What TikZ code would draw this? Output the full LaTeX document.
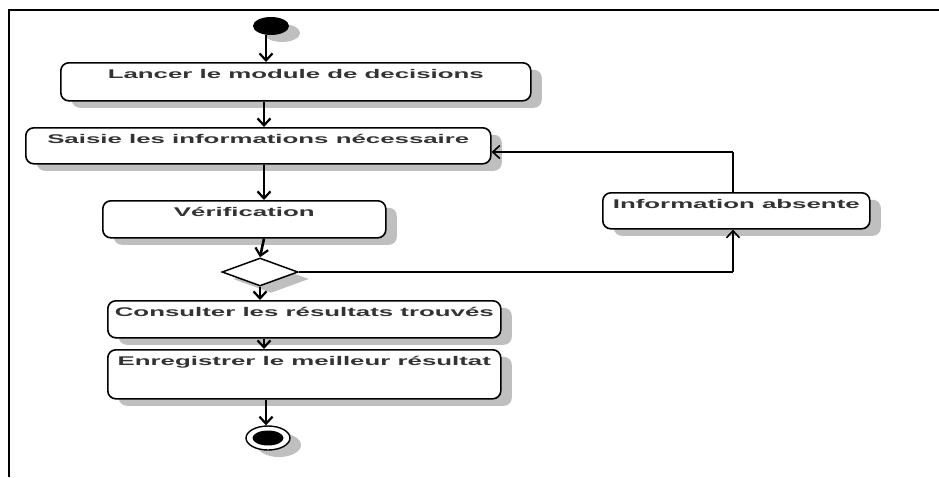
\documentclass[tikz,border=0pt]{standalone}
\usepackage{fontspec}
\newfontfamily\umlfont{Liberation Sans}[FakeStretch=2.05]
\usetikzlibrary{arrows.meta,shapes.geometric,shadows}
\begin{document}
\begin{tikzpicture}[x=1pt,y=-1pt,
  shade/.style={drop shadow={shadow xshift=11pt,shadow yshift=-7pt,fill=gray!50,opacity=1}},
  actbox/.style={draw=black,line width=1.6pt,fill=white,rounded corners=8pt,
    inner xsep=0pt,inner ysep=7pt,text height=9pt,anchor=north west,
    font=\umlfont\bfseries\fontsize{12.6}{14}\selectfont,text=black!80,shade},
  flow/.style={line width=2.6pt,-{Straight Barb[length=7pt,width=13pt,line width=2.2pt]}},
  back/.style={line width=1.8pt,-{Straight Barb[length=7pt,width=13pt,line width=1.6pt]}},
  seg/.style={line width=1.8pt}]
\useasboundingbox (0,0) rectangle (939,477);
\fill[white] (0,0) rectangle (939,477);
% frame
\draw[line width=2.2pt] (9,477) -- (9,10) -- (939,10);

% start and end
\node[ellipse,fill=black,minimum width=36pt,minimum height=18pt,inner sep=0pt,shade] (start) at (271,26) {};
\node[ellipse,draw=black,line width=1.4pt,fill=white,minimum width=44pt,minimum height=24pt,inner sep=0pt,shade] (stop) at (268,438) {};
\node[ellipse,fill=black,minimum width=31pt,minimum height=15pt,inner sep=0pt] (stopdot) at (stop.center) {};

% actions
\node[actbox,minimum width=470pt,text depth=15pt] (b1) at (60,62) {Lancer le module de decisions};
\node[actbox,minimum width=465pt,text depth=13pt] (b2) at (25,127) {Saisie les informations nécessaire};
\node[actbox,minimum width=283pt,text depth=14pt] (b3) at (102,200) {Vérification};
\node[actbox,minimum width=393pt,text depth=14pt] (b4) at (107,300) {Consulter les résultats trouvés};
\node[actbox,minimum width=393pt,text depth=26pt] (b5) at (107,349) {Enregistrer le meilleur résultat};
\node[actbox,minimum width=267pt,text depth=13pt] (info) at (602,192) {Information absente};

% decision
\node[diamond,draw=black,line width=1.5pt,fill=white,minimum width=76pt,minimum height=28pt,inner sep=0pt,shade] (dec) at (260,272) {};

% flow axis and loop corners
\coordinate (ax) at (264,0);
\coordinate (ax0) at (266,0);
\coordinate (loopTop) at (733,152);
\coordinate (loopLow) at (733,272);

\draw[flow] (start.south -| ax0) -- (b1.north -| ax0);
\draw[flow] (b1.south -| ax) -- (b2.north -| ax);
\draw[flow] (b2.south -| ax) -- (b3.north -| ax);
\draw[flow] (b3.south -| ax) -- (dec.north);
\draw[flow] (dec.south) -- (b4.north -| dec.south);
\draw[flow] (b4.south -| ax) -- (b5.north -| ax);
\draw[flow] (b5.south -| ax0) -- (stop.north -| ax0);

% loop back
\draw[seg] (dec.east) -- (loopLow);
\draw[back] (loopLow) -- (info.south -| loopLow);
\draw[seg] (info.north -| loopTop) -- (loopTop);
\draw[back] (loopTop) -- (loopTop -| b2.east);
\end{tikzpicture}
\end{document}
